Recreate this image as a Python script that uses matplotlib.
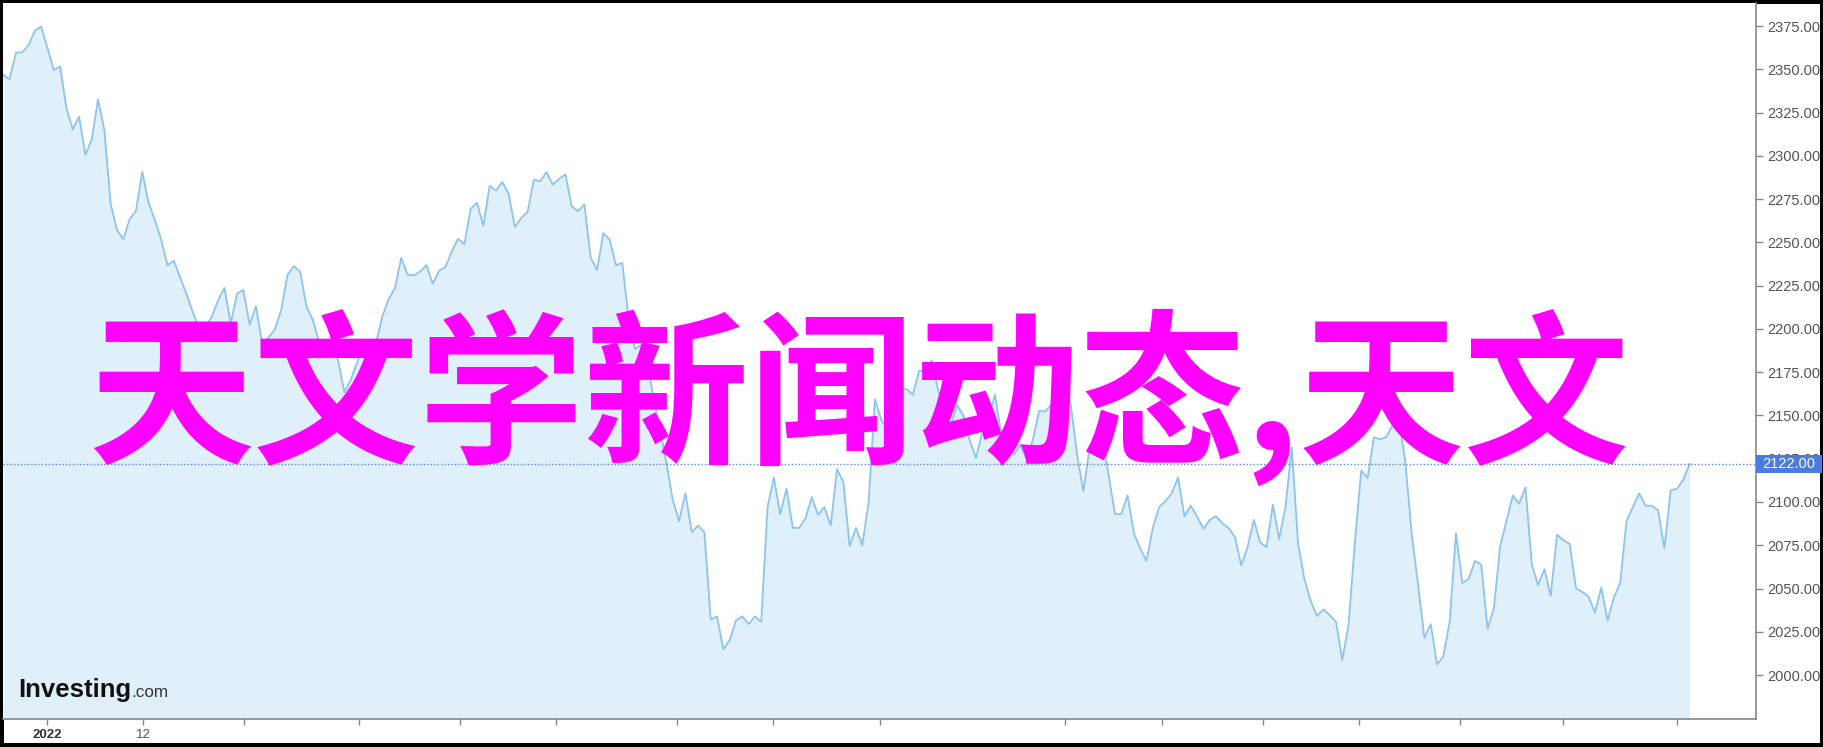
import matplotlib
matplotlib.use('Agg')
import matplotlib.pyplot as plt
from matplotlib.patches import Rectangle
import matplotlib.transforms as mtransforms

# price series (one value per session)
prices = [
    2346.7, 2344.2, 2359.6, 2359.8, 2364.0, 2372.3, 2374.6, 2362.1, 2349.6, 2351.5,
    2327.5, 2315.3, 2322.6, 2300.5, 2309.5, 2332.7, 2314.9, 2272.2, 2257.1, 2251.8,
    2263.3, 2268.3, 2290.8, 2272.9, 2262.9, 2251.4, 2236.8, 2239.4, 2229.6, 2220.3,
    2209.7, 2200.5, 2201.1, 2207.1, 2216.3, 2223.8, 2203.1, 2220.3, 2222.5, 2202.3,
    2213.1, 2191.1, 2195.1, 2199.6, 2210.9, 2231.4, 2236.2, 2233.1, 2212.9, 2205.2,
    2192.4, 2191.3, 2193.6, 2182.0, 2163.3, 2170.5, 2180.5, 2190.7, 2193.8, 2191.7,
    2207.1, 2217.1, 2223.5, 2241.0, 2231.4, 2230.9, 2233.1, 2236.8, 2226.1, 2233.6,
    2235.7, 2244.7, 2252.1, 2248.9, 2269.4, 2272.8, 2259.6, 2282.6, 2280.0, 2284.8,
    2278.1, 2258.8, 2264.1, 2267.5, 2286.1, 2285.3, 2290.6, 2283.4, 2286.6, 2289.3,
    2270.7, 2268.1, 2272.0, 2241.0, 2234.0, 2255.3, 2251.6, 2236.8, 2238.1, 2206.3,
    2188.4, 2190.7, 2180.5, 2159.0, 2141.6, 2122.2, 2101.0, 2089.0, 2105.0, 2082.5,
    2086.4, 2082.5, 2032.0, 2033.9, 2014.8, 2020.1, 2031.5, 2033.9, 2029.4, 2033.9,
    2030.7, 2097.0, 2114.2, 2093.0, 2107.6, 2085.0, 2085.0, 2090.4, 2102.8, 2092.5,
    2097.0, 2086.4, 2119.0, 2111.6, 2074.5, 2085.0, 2075.0, 2099.7, 2159.3, 2147.4,
    2141.6, 2159.0, 2165.9, 2165.2, 2162.0, 2175.8, 2175.8, 2181.9, 2164.6, 2153.2,
    2144.5, 2156.0, 2150.0, 2135.8, 2125.4, 2140.5, 2147.4, 2162.0, 2139.4, 2135.8,
    2127.2, 2133.0, 2124.9, 2135.8, 2152.7, 2152.2, 2156.6, 2161.8, 2167.6, 2156.6,
    2127.5, 2106.3, 2131.5, 2136.0, 2138.1, 2115.6, 2093.0, 2093.0, 2103.7, 2081.9,
    2073.2, 2065.9, 2085.0, 2097.0, 2100.5, 2105.0, 2114.2, 2091.7, 2097.8, 2091.7,
    2084.5, 2089.6, 2091.7, 2087.7, 2085.0, 2079.8, 2063.3, 2073.9, 2089.6, 2076.6,
    2073.9, 2098.3, 2078.5, 2097.0, 2131.5, 2075.8, 2055.4, 2042.6, 2034.2, 2037.9,
    2034.7, 2030.7, 2008.7, 2029.4, 2077.1, 2118.2, 2113.7, 2137.3, 2136.2, 2137.6,
    2144.7, 2147.4, 2122.2, 2081.0, 2052.0, 2021.5, 2029.4, 2006.1, 2010.8, 2030.7,
    2081.9, 2053.2, 2055.4, 2065.9, 2063.8, 2026.8, 2038.7, 2074.5, 2089.0, 2103.7,
    2099.1, 2108.5, 2063.8, 2052.0, 2061.2, 2045.8, 2081.1, 2077.9, 2075.8, 2050.1,
    2048.0, 2045.3, 2036.0, 2050.6, 2031.5, 2044.8, 2053.2, 2089.0, 2097.0, 2105.0,
    2097.8, 2097.8, 2095.2, 2073.2, 2106.8, 2107.6, 2112.9, 2122.0,
]
last_price = 2122.0

y_ticks = list(range(2000, 2376, 25))
x_tick_pos = [6.9, 22.1, 38.1, 56.3, 72.3, 87.5, 106.6, 121.8, 138.8,
              168.1, 183.4, 199.4, 214.6, 230.6, 246.9, 265.0]
x_tick_labels = ['2022', '12'] + [''] * 14

title = '天文学新闻动态,天文'

W, H = 1824, 747
fig = plt.figure(figsize=(W / 100, H / 100), dpi=100)
fig.patch.set_facecolor('white')
fig.patch.set_edgecolor('black')
fig.patch.set_linewidth(4.5)

# axes box in pixels: left 3, right 1756, top 3, bottom 719
ax = fig.add_axes([3 / W, (H - 719) / H, (1756 - 3) / W, (719 - 3) / H])
ymin, ymax = 1974.6, 2388.3
x = list(range(len(prices)))

ax.fill_between(x, prices, ymin, color='#e0f0fa', linewidth=0)
ax.plot(x, prices, color='#8cc3f0', linewidth=1.3)
ax.axhline(last_price, color='#5b86e5', linestyle=(0, (1, 1.5)), linewidth=1)

ax.set_xlim(-0.05, 277.5)
ax.set_ylim(ymin, ymax)

ax.yaxis.tick_right()
ax.set_yticks(y_ticks)
ax.set_yticklabels([f'{v:.2f}' for v in y_ticks], family='Liberation Sans')
ax.tick_params(axis='y', direction='out', length=5, width=1, colors='#888888',
               labelcolor='#555555', labelsize=10.5, pad=3)

ax.set_xticks(x_tick_pos)
ax.set_xticklabels(x_tick_labels, family='Liberation Sans')
ax.tick_params(axis='x', direction='out', length=4, width=1, colors='#888888',
               labelcolor='#555555', labelsize=9.5, pad=3)
ax.get_xticklabels()[0].set_fontweight('bold')
ax.get_xticklabels()[0].set_color('#333333')

for s in ['top', 'left']:
    ax.spines[s].set_visible(False)
for s in ['right', 'bottom']:
    ax.spines[s].set_color('#888888')
    ax.spines[s].set_linewidth(1.2)

# last price tag on the right axis
trans = mtransforms.blended_transform_factory(ax.transAxes, ax.transData)
ax.add_patch(Rectangle((1.0, last_price - 5.2), 66 / 1753, 10.4, transform=trans,
                       facecolor='#4a7bdf', edgecolor='none', clip_on=False, zorder=5))
ax.text(1.0 + 6 / 1753, last_price, f'{last_price:.2f}', transform=trans,
        color='white', fontsize=10.5, family='Liberation Sans',
        ha='left', va='center', zorder=6, clip_on=False)

# watermark logo
fig.text(18 / W, (H - 697) / H, 'Investing', fontsize=18.5, fontweight='bold',
         family='Liberation Sans', color='#111111', va='baseline')
fig.text(131 / W, (H - 697) / H, '.com', fontsize=12.3,
         family='Liberation Sans', color='#333333', va='baseline')

# big overlay text
fig.text(88 / W, (H - 398) / H, title, fontsize=119, fontweight='bold',
         color='#ff00ff', family=['Noto Sans CJK SC', 'DejaVu Sans'],
         ha='left', va='center')

fig.savefig('out.png', dpi=100)
